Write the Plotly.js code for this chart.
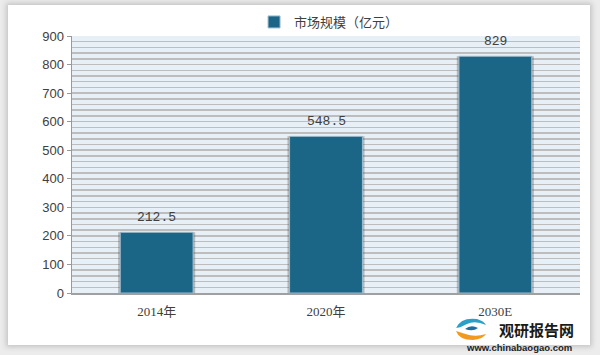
<!DOCTYPE html>
<html><head><meta charset="utf-8">
<script src="https://cdn.plot.ly/plotly-3.0.1.min.js"></script>
<style>
html,body{margin:0;padding:0;background:#ececec;width:600px;height:355px;overflow:hidden}
#frame{position:absolute;left:8px;top:5px;width:582px;height:340px;background:#fff;box-shadow:0 0 5px 2px #c4c4c4}
#chart{position:absolute;left:0;top:0;width:600px;height:355px}
</style></head><body>
<div id="frame"></div><div id="chart"></div>
<script>
const categories = ['2014年', '2020年', '2030E'];
const values = [212.5, 548.5, 829];
const seriesName = '市场规模（亿元）';
const yTicks = [0, 100, 200, 300, 400, 500, 600, 700, 800, 900];

const L = 72, R = 580, T = 36, B = 293;
const px = x => (x - L) / (R - L);
const py = y => (B - y) / (B - T);

const shadow = {
  type: 'bar', x: categories, y: values, width: 0.455,
  marker: {color: 'rgba(80,80,80,0.35)'},
  hoverinfo: 'skip', showlegend: false
};
const bars = {
  type: 'bar', x: categories, y: values, width: 0.43, name: seriesName,
  marker: {color: '#1b6587', line: {color: '#9dbccd', width: 1}}
};

const valueLabels = categories.map((c, i) => ({
  x: c, y: values[i], xref: 'x', yref: 'y', text: String(values[i]),
  showarrow: false, xanchor: 'center', yanchor: 'middle', yshift: 15,
  font: {family: 'Liberation Mono, monospace', size: 13, color: '#404040'}
}));

const layout = {
  width: 600, height: 355,
  margin: {l: L, r: 600 - R, t: T, b: 355 - B, autoexpand: false},
  paper_bgcolor: 'rgba(0,0,0,0)', plot_bgcolor: '#e8f0f7',
  barmode: 'overlay', bargap: 0.5,
  font: {family: 'Liberation Sans, Noto Sans CJK SC, sans-serif', color: '#404040'},
  showlegend: true,
  legend: {orientation: 'h', x: 0.506, xanchor: 'center', y: py(22), yanchor: 'middle',
    font: {family: 'Noto Sans CJK SC, sans-serif', size: 13, color: '#404040'},
    bgcolor: 'rgba(0,0,0,0)'},
  xaxis: {
    type: 'category', showline: true, linecolor: '#a0a0a0', linewidth: 2,
    ticks: '', showgrid: false, fixedrange: true, ticklabelstandoff: 5,
    tickfont: {family: 'Liberation Serif, Noto Sans CJK SC, serif', size: 13, color: '#404040'}
  },
  yaxis: {
    range: [0, 900], tickvals: yTicks, ticks: 'outside', ticklen: 4, tickcolor: '#999',
    showline: true, linecolor: '#999', linewidth: 1.5, zeroline: false,
    showgrid: true, gridcolor: '#bdbdbd', gridwidth: 1.5,
    minor: {dtick: 20, showgrid: true, gridcolor: '#bdbdbd', gridwidth: 1.5, ticks: ''},
    tickfont: {family: 'Liberation Sans, sans-serif', size: 13, color: '#404040'}
  },
  annotations: valueLabels.concat([
    {xref: 'paper', yref: 'paper', x: px(536), y: py(329.5), xanchor: 'center', yanchor: 'middle',
     text: '<b>观研报告网</b>', showarrow: false,
     font: {family: 'Noto Sans CJK SC, sans-serif', size: 15, color: '#1a1a1a'}},
    {xref: 'paper', yref: 'paper', x: px(519), y: py(347), xanchor: 'center', yanchor: 'middle',
     text: '<b>www.chinabaogao.com</b>', showarrow: false,
     font: {family: 'Liberation Sans, sans-serif', size: 9.5, color: '#222'}}
  ]),
  shapes: [
    {type: 'path', xref: 'paper', yref: 'paper', xsizemode: 'pixel', ysizemode: 'pixel',
     xanchor: px(471), yanchor: py(329),
     path: 'M -15 1 Q -10 12 6 10 Q 13 8 15 4 Q 4 9 -4 5 Q -9 2 -15 1 Z',
     fillcolor: '#2aa0c8', line: {width: 0}},
    {type: 'path', xref: 'paper', yref: 'paper', xsizemode: 'pixel', ysizemode: 'pixel',
     xanchor: px(471), yanchor: py(329),
     path: 'M -15 -2 Q -12 -11 2 -11 Q 12 -10 15 -5 Q 6 -8 -2 -6 Q -9 -4 -15 -2 Z',
     fillcolor: '#f29a1d', line: {width: 0}},
    {type: 'path', xref: 'paper', yref: 'paper', xsizemode: 'pixel', ysizemode: 'pixel',
     xanchor: px(471), yanchor: py(329),
     path: 'M -6 0 Q 0 5 7 1 Q 2 -3 -6 0 Z',
     fillcolor: '#1b6fa3', line: {width: 0}}
  ]
};

Plotly.newPlot('chart', [shadow, bars], layout, {displayModeBar: false, staticPlot: true});
</script>
</body></html>
